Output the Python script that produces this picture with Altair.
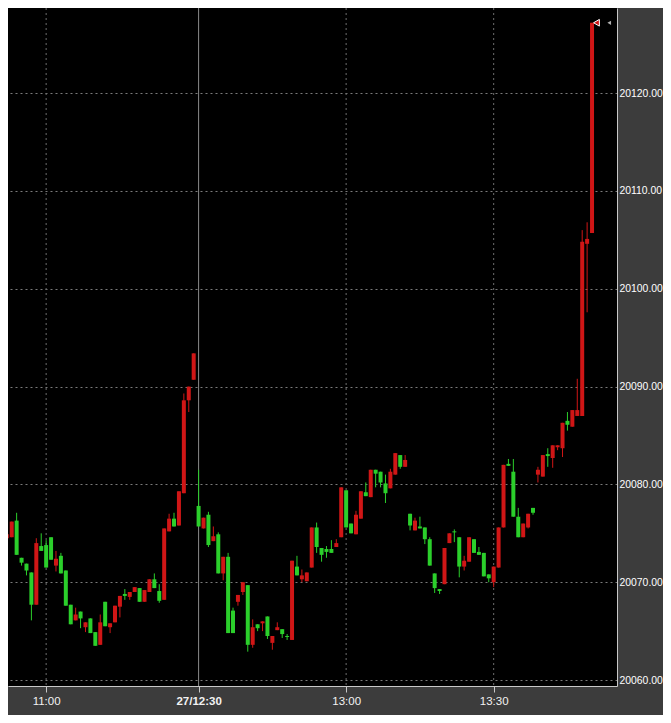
import altair as alt
import pandas as pd

# ---- data: 1-minute candles (morning session end + afternoon session) ----
bar_times = ([f"10:{m:02d}" for m in range(52, 60)] + [f"11:{m:02d}" for m in range(0, 31)]
             + [f"12:{m:02d}" for m in range(30, 60)] + [f"13:{m:02d}" for m in range(0, 51)])

open_ = [20074.5, 20074.6, 20076.3, 20072.5, 20071.9, 20071.0, 20067.7, 20073.7, 20073.8, 20074.6,
         20071.7, 20072.7, 20071.2, 20067.7, 20066.1, 20067.0, 20065.4, 20066.3, 20064.9, 20063.6,
         20068.0, 20065.4, 20065.9, 20067.5, 20068.8, 20068.5, 20069.0, 20069.4, 20068.0, 20069.0,
         20070.3, 20069.1, 20068.2, 20075.2, 20076.5, 20075.8, 20079.1, 20088.6, 20090.7, 20077.8,
         20075.5, 20076.9, 20074.2, 20074.9, 20070.9, 20072.6, 20067.1, 20068.0, 20069.0, 20069.7,
         20063.6, 20065.7, 20065.8, 20066.5, 20063.8, 20065.1, 20065.2, 20064.5, 20064.1, 20071.6,
         20070.3, 20070.1, 20071.5, 20075.6, 20073.5, 20073.4, 20073.4, 20073.6, 20074.6, 20079.4,
         20076.0, 20074.9, 20076.5, 20079.2, 20078.7, 20081.5, 20081.3, 20080.1, 20079.6, 20081.0,
         20083.0, 20081.8, 20077.0, 20075.3, 20075.7, 20075.6, 20074.4, 20070.9, 20069.3, 20069.8,
         20074.0, 20075.2, 20074.6, 20071.6, 20072.1, 20074.4, 20073.1, 20073.0, 20070.8, 20070.0,
         20071.5, 20075.6, 20082.1, 20081.3, 20076.7, 20074.6, 20075.6, 20077.6, 20081.0, 20080.8,
         20083.1, 20082.7, 20083.8, 20083.7, 20086.5, 20085.9, 20087.0, 20087.0, 20104.6, 20105.7]

high = [20074.9, 20076.2, 20077.1, 20072.5, 20071.9, 20071.0, 20074.5, 20075.0, 20074.3, 20074.6,
        20073.2, 20073.0, 20071.2, 20067.7, 20067.4, 20067.0, 20065.9, 20066.3, 20064.9, 20066.7,
        20068.0, 20065.8, 20067.6, 20068.6, 20069.3, 20069.0, 20069.5, 20069.4, 20069.2, 20070.3,
        20070.9, 20069.8, 20075.5, 20077.0, 20077.1, 20079.3, 20089.3, 20090.0, 20093.4, 20081.5,
        20076.6, 20077.2, 20075.7, 20075.1, 20072.6, 20073.0, 20067.4, 20068.7, 20070.0, 20069.7,
        20066.2, 20065.7, 20066.0, 20066.5, 20064.5, 20065.9, 20065.2, 20064.7, 20072.2, 20072.7,
        20071.3, 20071.0, 20075.6, 20076.1, 20073.5, 20073.7, 20074.3, 20074.4, 20079.7, 20079.4,
        20076.0, 20077.3, 20079.3, 20080.2, 20081.5, 20081.5, 20081.3, 20081.0, 20081.6, 20083.2,
        20083.0, 20083.0, 20077.0, 20076.6, 20076.7, 20075.6, 20074.6, 20070.9, 20069.3, 20073.5,
        20075.0, 20075.4, 20074.6, 20072.7, 20074.6, 20074.4, 20073.6, 20073.0, 20070.8, 20071.6,
        20075.6, 20082.0, 20082.6, 20082.6, 20077.6, 20076.0, 20077.0, 20077.6, 20081.8, 20083.0,
        20083.7, 20084.0, 20084.0, 20086.3, 20087.4, 20087.6, 20090.8, 20106.0, 20106.8, 20127.2]

low = [20074.0, 20074.6, 20072.8, 20071.7, 20070.7, 20066.1, 20067.7, 20073.2, 20071.5, 20072.3,
       20071.1, 20070.9, 20067.6, 20065.7, 20066.1, 20065.3, 20064.9, 20064.8, 20063.5, 20063.6,
       20065.5, 20064.8, 20065.9, 20066.4, 20068.2, 20068.2, 20069.0, 20068.0, 20068.0, 20069.0,
       20069.4, 20067.9, 20068.2, 20075.2, 20075.7, 20075.8, 20079.1, 20087.4, 20090.7, 20075.7,
       20075.5, 20073.6, 20074.2, 20070.9, 20070.2, 20064.8, 20064.8, 20067.6, 20068.7, 20062.9,
       20063.3, 20065.0, 20065.0, 20064.2, 20063.1, 20065.1, 20064.3, 20064.1, 20064.1, 20070.7,
       20070.0, 20070.1, 20071.5, 20073.0, 20072.1, 20072.5, 20073.0, 20073.6, 20074.6, 20075.6,
       20075.0, 20074.9, 20076.5, 20078.8, 20078.7, 20079.7, 20079.7, 20078.1, 20079.6, 20081.0,
       20081.6, 20081.8, 20075.3, 20075.3, 20075.5, 20073.9, 20071.7, 20068.9, 20068.8, 20069.8,
       20074.0, 20074.1, 20070.5, 20071.2, 20072.1, 20073.0, 20072.8, 20070.6, 20070.0, 20069.5,
       20071.5, 20075.6, 20081.9, 20076.7, 20074.6, 20074.6, 20075.5, 20076.9, 20080.2, 20080.8,
       20081.8, 20081.7, 20083.5, 20082.8, 20085.5, 20085.9, 20087.0, 20087.0, 20097.6, 20105.7]

close = [20074.9, 20076.2, 20072.8, 20072.0, 20071.2, 20067.7, 20074.0, 20073.2, 20071.5, 20072.3,
         20072.4, 20070.9, 20067.6, 20065.7, 20066.7, 20066.3, 20065.9, 20064.8, 20063.5, 20065.9,
         20065.5, 20065.8, 20067.6, 20068.6, 20068.6, 20069.0, 20069.5, 20068.0, 20069.2, 20070.3,
         20069.4, 20068.1, 20075.5, 20076.5, 20075.7, 20079.3, 20088.6, 20090.0, 20093.4, 20075.7,
         20076.6, 20073.8, 20074.7, 20070.9, 20072.6, 20064.8, 20064.8, 20068.7, 20070.0, 20063.6,
         20065.4, 20065.3, 20066.0, 20064.5, 20064.5, 20065.4, 20064.7, 20064.4, 20072.2, 20070.7,
         20070.7, 20071.0, 20075.6, 20073.6, 20072.8, 20073.1, 20073.0, 20074.0, 20079.7, 20075.6,
         20075.0, 20076.9, 20079.3, 20078.8, 20081.5, 20081.1, 20080.2, 20079.1, 20081.3, 20083.2,
         20081.8, 20082.5, 20075.8, 20076.3, 20075.5, 20074.4, 20071.7, 20069.4, 20069.1, 20073.5,
         20075.0, 20075.1, 20071.6, 20072.2, 20074.6, 20073.0, 20072.8, 20070.6, 20070.4, 20071.6,
         20075.6, 20082.0, 20081.9, 20076.7, 20074.6, 20076.0, 20077.0, 20077.1, 20081.5, 20083.0,
         20082.9, 20084.0, 20084.0, 20086.3, 20086.1, 20087.6, 20087.6, 20104.8, 20105.1, 20127.2]

tick_times = ["11:00", "12:30", "13:00", "13:30"]
tick_labels = ["11:00", "27/12:30", "13:00", "13:30"]
session_open = "12:30"
price_ticks = [20060, 20070, 20080, 20090, 20100, 20110, 20120]

# ---- styling ----
RED = "#d01616"
GREEN = "#2bcf2b"
FONT = "Liberation Sans, Arial, sans-serif"

df = pd.DataFrame({"i": list(range(1, len(bar_times) + 1)), "time": bar_times,
                   "open": open_, "high": high, "low": low, "close": close})
df["dir"] = ["up" if c >= o else "down" for o, c in zip(open_, close)]

tick_idx = [bar_times.index(t) + 1 for t in tick_times]
vgrid = pd.DataFrame({"i": tick_idx,
                      "kind": ["session" if t == session_open else "regular" for t in tick_times]})
label_expr = " : ".join(f"datum.value == {k} ? '{lab}'" for k, lab in zip(tick_idx, tick_labels)) + " : ''"
bold_expr = f"datum.value == {bar_times.index(session_open) + 1} ? 'bold' : 'normal'"

last = pd.DataFrame({"i": [len(bar_times) + 0.9], "p": [close[-1]]})
last_axis = pd.DataFrame({"i": [len(bar_times) + 3.5], "p": [close[-1]]})

x_scale = alt.Scale(domain=[2.26, 124.06], nice=False, zero=False)
y_scale = alt.Scale(domain=[20059.39, 20128.71], nice=False, zero=False)

x_axis = alt.Axis(values=tick_idx, labelExpr=label_expr, title=None, grid=False,
                  domainColor="#c8c8c8", tickColor="#c8c8c8", tickSize=6, labelPadding=3,
                  labelColor="#f2f2f2", labelFont=FONT, labelFontSize=11.5,
                  labelFontWeight={"expr": bold_expr}, labelOverlap=False)
y_axis = alt.Axis(orient="right", values=price_ticks, format=".2f", title=None,
                  ticks=False, labelPadding=2, labelColor="#ffffff", labelFont=FONT,
                  labelFontSize=10.4, domainColor="#c8c8c8", grid=True, gridColor="#7a7a7a",
                  gridDash=[2, 3], gridWidth=1, labelAlign="left")

color = alt.Color("dir:N", scale=alt.Scale(domain=["up", "down"], range=[RED, GREEN]), legend=None)

grid_v = alt.Chart(vgrid).mark_rule(clip=True, strokeWidth=1).encode(
    x=alt.X("i:Q", scale=x_scale, axis=x_axis),
    color=alt.Color("kind:N", scale=alt.Scale(domain=["session", "regular"], range=["#8a8a8a", "#6e6e6e"]), legend=None),
    strokeDash=alt.StrokeDash("kind:N", scale=alt.Scale(domain=["session", "regular"], range=[[1, 0], [2, 3]]), legend=None),
)

wick = alt.Chart(df).mark_rule(clip=True, strokeWidth=1).encode(
    x=alt.X("i:Q", scale=x_scale, axis=x_axis),
    y=alt.Y("low:Q", scale=y_scale, axis=y_axis),
    y2="high:Q",
    color=color,
)
body = alt.Chart(df).mark_bar(clip=True, size=4).encode(
    x=alt.X("i:Q", scale=x_scale, axis=x_axis),
    y=alt.Y("open:Q", scale=y_scale, axis=y_axis),
    y2="close:Q",
    color=color,
)
arrow = alt.Chart(last).mark_point(shape="triangle-left", filled=True, fill=RED, stroke="white",
                                   strokeWidth=1, size=45, opacity=1, clip=True).encode(
    x=alt.X("i:Q", scale=x_scale, axis=x_axis),
    y=alt.Y("p:Q", scale=y_scale, axis=y_axis),
)
marker = alt.Chart(last_axis).mark_point(shape="triangle-left", filled=True, color="#b0b0b0",
                                         size=18, opacity=1, clip=True).encode(
    x=alt.X("i:Q", scale=x_scale, axis=x_axis),
    y=alt.Y("p:Q", scale=y_scale, axis=y_axis),
)

chart = alt.layer(grid_v, wick, body, arrow, marker).resolve_scale(color="independent").properties(
    width=609, height=678,
    autosize=alt.AutoSizeParams(type="none"),
    padding={"left": 0, "top": 0, "right": 46, "bottom": 29},
    background="#3c3c3c",
).configure_view(fill="#000000", stroke=None)

chart.save("out.html", embed_options={"renderer": "svg", "actions": False})
